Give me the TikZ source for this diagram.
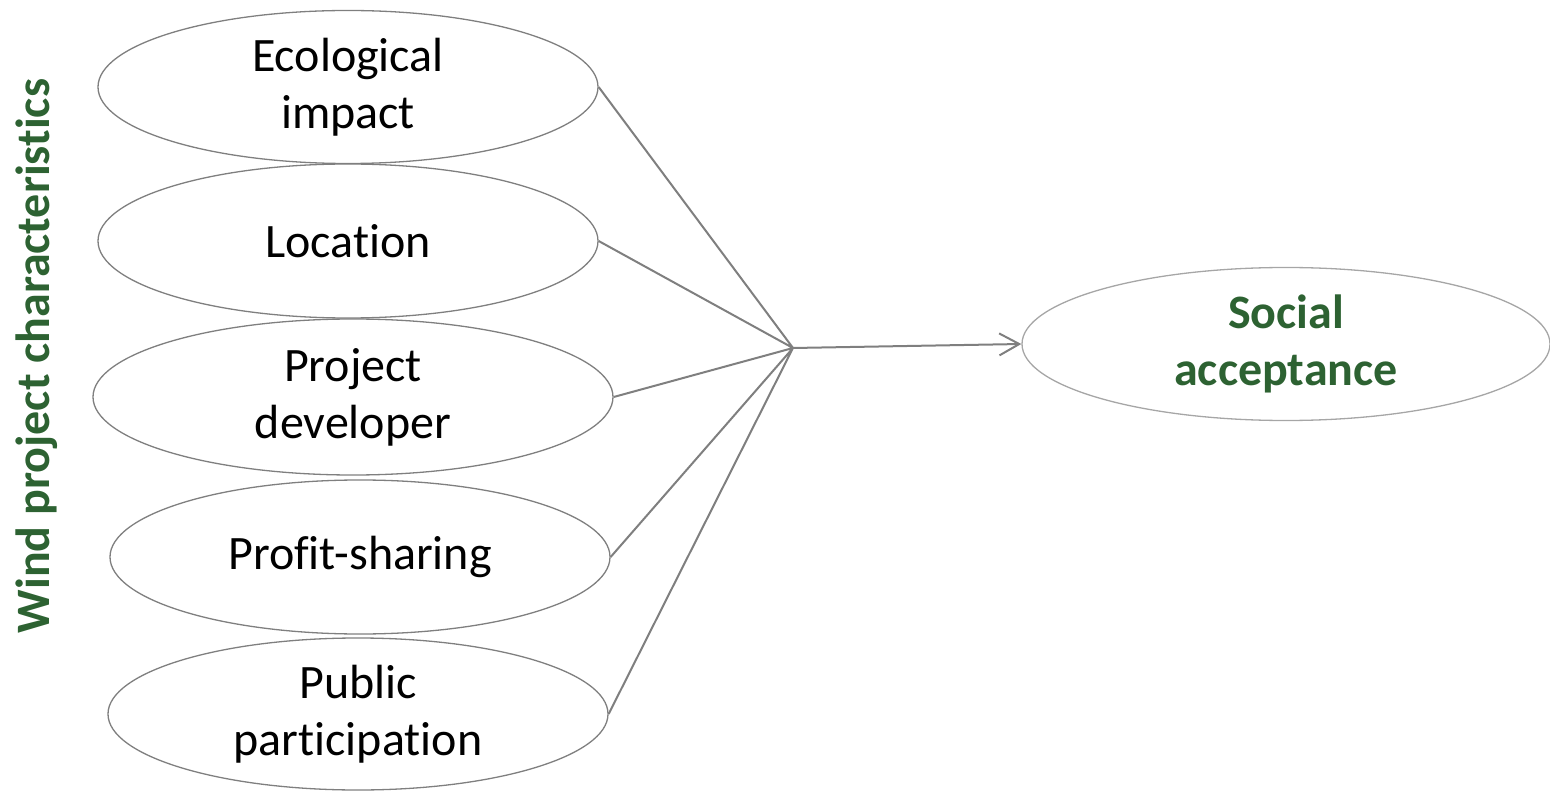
\documentclass[tikz,border=0pt]{standalone}
\usepackage{fontspec}
\setmainfont{Carlito}[Ligatures=NoCommon]
\usepackage{xcolor}
\usetikzlibrary{shapes, arrows.meta, positioning}
\definecolor{darkgreen}{HTML}{2D6232}
\definecolor{linegray}{HTML}{7F7F7F}
\definecolor{lightgray}{HTML}{A6A6A6}
\tikzset{
	factor/.style={draw=linegray,line width=1.3pt,ellipse,inner sep=0pt,align=center,
		font=\fontsize{48}{57}\selectfont},
	link/.style={draw=linegray,line width=2pt},
}
\begin{document}
\begin{tikzpicture}[x=1pt,y=-1pt]
		\useasboundingbox (0,0) rectangle (1550,791);
		\coordinate (hub) at (793,348);
		\node [factor,minimum width=500pt,minimum height=153pt] at (348,87) (eco) {Ecological\\impact};
		\node [factor,minimum width=500pt,minimum height=154pt] at (348,241) (loc) {Location};
		\node [factor,minimum width=520pt,minimum height=156pt] at (353,397) (dev) {Project\\developer};
		\node [factor,minimum width=500pt,minimum height=154pt] at (360,557) (profit) {Profit-sharing};
		\node [factor,minimum width=500pt,minimum height=152pt] at (358,714) (pub) {Public\\participation};
		\node [factor,draw=lightgray,minimum width=528pt,minimum height=153pt,text=darkgreen,
			font=\fontsize{48}{57}\selectfont\bfseries] at (1286,344) (soc) {Social\\acceptance};
		\draw [link] (eco.east) -- (hub) (loc.east) -- (hub) (dev.east) -- (hub)
			(profit.east) -- (hub) (pub.east) -- (hub);
		\draw [link,-{Straight Barb[length=20pt,width=22pt,line width=2pt]}] (hub) -- (soc.west);
		\node [rotate=90,text=darkgreen,font=\fontsize{48}{57}\selectfont\bfseries] at (37,356) (wind) {Wind project characteristics};
	\end{tikzpicture}
\end{document}
